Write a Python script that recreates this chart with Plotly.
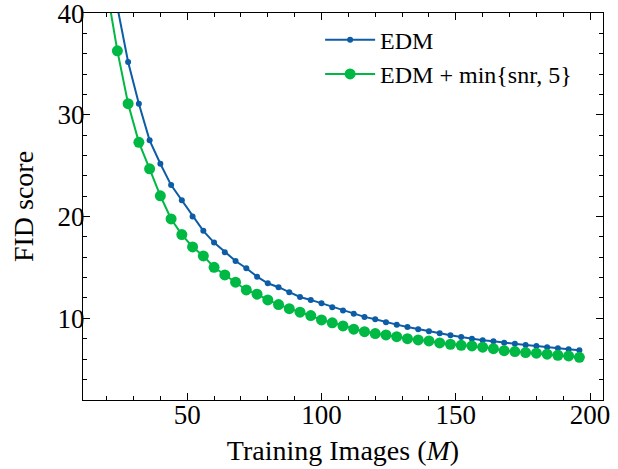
import plotly.graph_objects as go

images = [20, 24, 28, 32, 36, 40, 44, 48, 52, 56, 60, 64, 68, 72, 76, 80, 84, 88, 92, 96,
          100, 104, 108, 112, 116, 120, 124, 128, 132, 136, 140, 144, 148, 152, 156, 160,
          164, 168, 172, 176, 180, 184, 188, 192, 196]

fid_edm = [49.0, 40.6, 35.2, 31.1, 27.5, 25.2, 23.1, 21.6, 20.0, 18.6, 17.45, 16.5, 15.64, 14.93,
           14.1, 13.45, 13.06, 12.57, 12.1, 11.81, 11.48, 11.1, 10.77, 10.46, 10.14, 9.91,
           9.62, 9.38, 9.15, 8.93, 8.73, 8.53, 8.34, 8.17, 8.0, 7.85, 7.75, 7.61, 7.51, 7.38,
           7.29, 7.16, 7.06, 6.96, 6.86]

fid_snr = [42.5, 36.3, 31.1, 27.3, 24.7, 22.05, 19.77, 18.23, 17.02, 16.14, 15.02, 14.27, 13.55,
           12.79, 12.37, 11.81, 11.35, 10.95, 10.6, 10.27, 9.84, 9.56, 9.25, 8.93, 8.69, 8.50,
           8.37, 8.20, 8.0, 7.88, 7.78, 7.58, 7.45, 7.35, 7.29, 7.16, 7.02, 6.82, 6.73, 6.63,
           6.57, 6.47, 6.37, 6.30, 6.17]

series_names = ["EDM", "EDM + min{snr, 5}"]
x_ticks = [50, 100, 150, 200]
y_ticks = [10, 20, 30, 40]

FONT = "Liberation Serif, Times New Roman, DejaVu Serif, serif"

fig = go.Figure()
fig.add_trace(go.Scatter(
    x=images, y=fid_edm, name=series_names[0], mode="lines+markers",
    line=dict(color="#0C5DA5", width=2),
    marker=dict(color="#0C5DA5", size=6),
))
fig.add_trace(go.Scatter(
    x=images, y=fid_snr, name=series_names[1], mode="lines+markers",
    line=dict(color="#00B945", width=2),
    marker=dict(color="#00B945", size=11),
))

axis_common = dict(
    showline=True, linecolor="black", linewidth=1.2, mirror="allticks",
    ticks="inside", ticklen=7, tickwidth=1, tickcolor="black",
    showgrid=False, zeroline=False, automargin=False,
    ticklabeloverflow="allow",
    tickfont=dict(family=FONT, size=27, color="black"),
)

fig.update_xaxes(
    **axis_common,
    range=[11.2, 204.8], tickvals=x_ticks,
    ticklabelstandoff=-10,
    minor=dict(ticks="inside", ticklen=4, tickwidth=1, tickcolor="black", dtick=10, tick0=0),
    title=dict(text="Training Images (<i>M</i>)", font=dict(family=FONT, size=28, color="black"), standoff=11),
)
fig.update_yaxes(
    **axis_common,
    range=[1.97, 40.02], tickvals=y_ticks,
    ticklabelstandoff=-8,
    minor=dict(ticks="inside", ticklen=4, tickwidth=1, tickcolor="black", dtick=2, tick0=0),
    title=dict(text="FID score", font=dict(family=FONT, size=28, color="black"), standoff=15),
)

fig.update_layout(
    width=618, height=469,
    margin=dict(l=83, r=15, t=13, b=69),
    paper_bgcolor="white", plot_bgcolor="white",
    showlegend=True,
    legend=dict(
        x=0.456, y=0.988, xanchor="left", yanchor="top",
        bgcolor="rgba(0,0,0,0)", borderwidth=0,
        font=dict(family=FONT, size=24, color="black"),
        itemwidth=50,
    ),
)

fig.write_html(
    "out.html",
    config={"displayModeBar": False},
    post_script="document.body.style.margin='0';document.body.style.overflow='hidden';",
)
